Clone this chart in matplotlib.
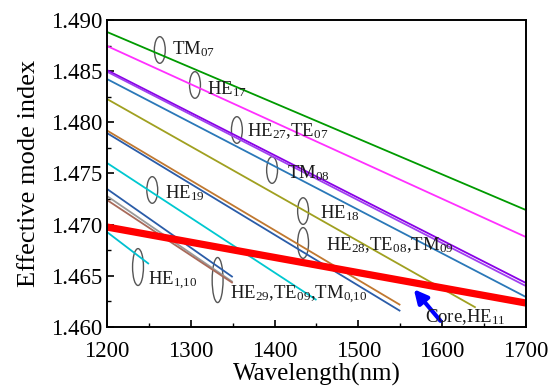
import numpy as np
import matplotlib
matplotlib.use("Agg")
import matplotlib.pyplot as plt
from matplotlib.patches import Ellipse

plt.rcParams['font.family'] = ['Liberation Serif', 'DejaVu Serif']
plt.rcParams['mathtext.fontset'] = 'custom'
plt.rcParams['mathtext.rm'] = 'Liberation Serif'
plt.rcParams['mathtext.it'] = 'Liberation Serif'

# --- mode curves (straight lines between start and end wavelength) ---
line_colors = ['#009A00', '#FF30FF', '#8A00E6', '#A040F0', '#2A78B8', '#A0A020',
               '#C07830', '#2A5CA8', '#00C8D0', '#2A5CA8', '#9A9A9A', '#A86A5A', '#00C0D0']
wl_start = [1200, 1200, 1200, 1200, 1200, 1200, 1200, 1200, 1200, 1200, 1200, 1200, 1200]
wl_end = [1700, 1700, 1700, 1700, 1700, 1640, 1550, 1550, 1450, 1350, 1350, 1350, 1250]
neff_start = [1.48883, 1.48746, 1.48510, 1.48495, 1.48423, 1.48228, 1.47920, 1.47895,
              1.47603, 1.47349, 1.47280, 1.47241, 1.46928]
neff_end = [1.47143, 1.46879, 1.46430, 1.46400, 1.46293, 1.46190, 1.46215, 1.46156,
            1.46264, 1.46488, 1.46440, 1.46430, 1.46616]

# core fundamental mode (thick red)
core_wl = [1200, 1700]
core_neff = [1.46977, 1.46234]

# --- annotations: ellipse centre, ellipse size, label position, label ---
ann_labels = [r'TM$_{07}$', r'HE$_{17}$', r'HE$_{27}$,TE$_{07}$', r'TM$_{08}$', r'HE$_{18}$',
              r'HE$_{28}$,TE$_{08}$,TM$_{09}$', r'HE$_{19}$', r'HE$_{1{,}10}$',
              r'HE$_{29}$,TE$_{09}$,TM$_{0{,}10}$']
ell_x = [1263, 1305, 1355, 1397, 1434, 1434, 1254, 1237, 1332]
ell_y = [1.48707, 1.48365, 1.47925, 1.47534, 1.47133, 1.46821, 1.47339, 1.46586, 1.46459]
ell_h = [0.0026, 0.0026, 0.0026, 0.0026, 0.0026, 0.0030, 0.0026, 0.0036, 0.0044]
txt_x = [1277, 1319, 1367, 1415, 1454, 1461, 1269, 1249, 1347]
txt_y = [1.48712, 1.48320, 1.47910, 1.47500, 1.47110, 1.46805, 1.47305, 1.46455, 1.46318]

fig = plt.figure(figsize=(5.51, 3.92), dpi=100)
ax = fig.add_axes([0.1942, 0.1658, 0.7604, 0.7832])

for c, x0, x1, y0, y1 in zip(line_colors, wl_start, wl_end, neff_start, neff_end):
    ax.plot([x0, x1], [y0, y1], color=c, linewidth=1.3, solid_capstyle='butt')

ax.plot(core_wl, core_neff, color='#FF0000', linewidth=5.2, solid_capstyle='butt')

for ex, ey, eh, tx, ty, lab in zip(ell_x, ell_y, ell_h, txt_x, txt_y, ann_labels):
    ax.add_patch(Ellipse((ex, ey), 13, eh, fill=False, edgecolor='#555555', linewidth=1.0))
    ax.text(tx, ty, lab, fontsize=13.5, va='center', ha='left', color='#1a1a1a')

# arrow to core mode
ax.annotate('', xy=(1564, 1.46390), xytext=(1600, 1.46040),
            arrowprops=dict(arrowstyle='-|>', color='#0000FF', lw=3.0, mutation_scale=20))
ax.text(1579, 1.46100, r'Core,HE$_{11}$', fontsize=13.5, va='center', ha='left', color='#1a1a1a')

ax.set_xlim(1200, 1700)
ax.set_ylim(1.460, 1.490)
ax.set_xticks(np.arange(1200, 1701, 100))
ax.set_xticks(np.arange(1250, 1700, 100), minor=True)
ax.set_yticks(np.arange(1.460, 1.4901, 0.005))
ax.set_yticks(np.arange(1.4625, 1.490, 0.005), minor=True)
ax.yaxis.set_major_formatter(matplotlib.ticker.FormatStrFormatter('%.3f'))
ax.tick_params(which='both', direction='in', top=False, right=False, labelsize=16.5)
ax.tick_params(axis='x', pad=10)
ax.tick_params(which='major', length=5, width=1.2)
ax.tick_params(which='minor', length=3, width=1.0)
for sp in ax.spines.values():
    sp.set_linewidth(1.4)

ax.set_xlabel('Wavelength(nm)', fontsize=18, labelpad=1)
ax.set_ylabel('Effective mode index', fontsize=19, labelpad=8)

fig.savefig('out.png', dpi=100)
